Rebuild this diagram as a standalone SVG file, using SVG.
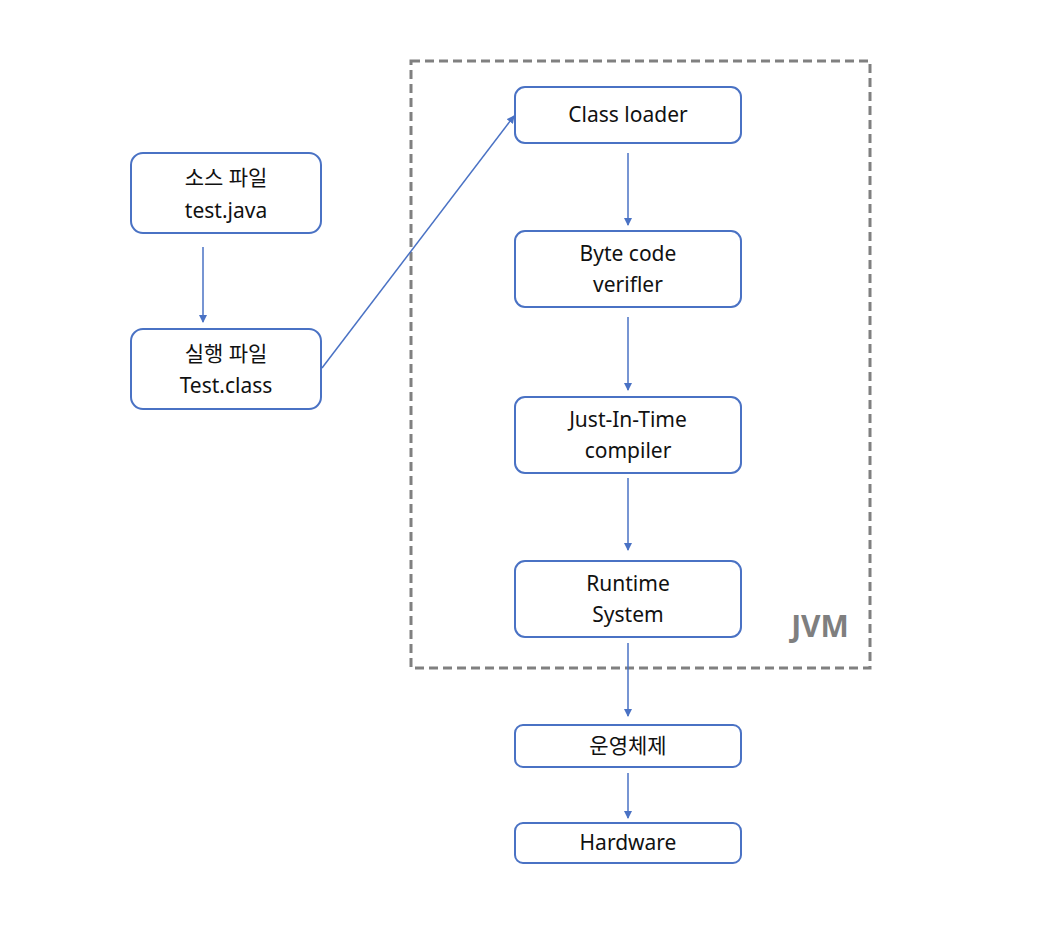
<svg xmlns="http://www.w3.org/2000/svg" width="1044" height="932" viewBox="0 0 1044 932">
<style>
.n{fill:#fff;stroke:#4a72c4;stroke-width:2}
.t{font-family:"Noto Sans","Noto Sans CJK KR",sans-serif;font-size:21px;fill:#111;text-anchor:middle}
.c{stroke:#4a72c4;stroke-width:1.5;fill:none;marker-end:url(#a)}
</style>
<defs><marker id="a" markerWidth="8" markerHeight="8" refX="7" refY="4" orient="auto" markerUnits="userSpaceOnUse"><path d="M0,0 L8,4 L0,8 z" fill="#4a72c4"/></marker></defs>
<rect width="1044" height="932" fill="#fff"/>
<g id="jvm"><rect x="411" y="61" width="459" height="607" fill="none" stroke="#808080" stroke-width="3" stroke-dasharray="9,5"/>
<text x="820" y="637" font-family="'Noto Sans',sans-serif" font-size="30" font-weight="bold" fill="#7f7f7f" text-anchor="middle">JVM</text></g>
<g id="src"><rect class="n" x="131" y="153" width="190" height="80" rx="12"/><text class="t" x="226" y="185">소스 파일</text><text class="t" x="226" y="218">test.java</text></g>
<g id="exe"><rect class="n" x="131" y="329" width="190" height="80" rx="12"/><text class="t" x="226" y="361">실행 파일</text><text class="t" x="226" y="393">Test.class</text></g>
<g id="cl"><rect class="n" x="515" y="87" width="226" height="56" rx="10"/><text class="t" x="628" y="122">Class loader</text></g>
<g id="bv"><rect class="n" x="515" y="231" width="226" height="76" rx="10"/><text class="t" x="628" y="261">Byte code</text><text class="t" x="628" y="292">verifler</text></g>
<g id="jit"><rect class="n" x="515" y="397" width="226" height="76" rx="10"/><text class="t" x="628" y="427">Just-In-Time</text><text class="t" x="628" y="458">compiler</text></g>
<g id="rt"><rect class="n" x="515" y="561" width="226" height="76" rx="10"/><text class="t" x="628" y="591">Runtime</text><text class="t" x="628" y="622">System</text></g>
<g id="os"><rect class="n" x="515" y="725" width="226" height="42" rx="8"/><text class="t" x="628" y="753">운영체제</text></g>
<g id="hw"><rect class="n" x="515" y="823" width="226" height="40" rx="8"/><text class="t" x="628" y="850">Hardware</text></g>
<g id="connectors">
<line class="c" x1="203" y1="247" x2="203" y2="322"/>
<line class="c" x1="322" y1="368" x2="514" y2="116"/>
<line class="c" x1="628" y1="153" x2="628" y2="225"/>
<line class="c" x1="628" y1="317" x2="628" y2="390"/>
<line class="c" x1="628" y1="478" x2="628" y2="550"/>
<line class="c" x1="628" y1="643" x2="628" y2="716"/>
<line class="c" x1="628" y1="773" x2="628" y2="818"/>
</g>
</svg>
